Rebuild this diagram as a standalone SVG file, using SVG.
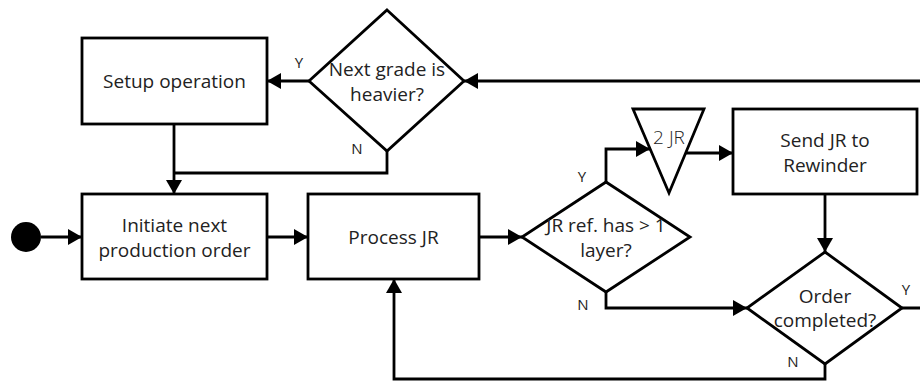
<svg xmlns="http://www.w3.org/2000/svg" width="920" height="381" viewBox="0 0 920 381">
  <style>
    .shape { fill: #ffffff; stroke: #000000; stroke-width: 2.8; }
    .edge { fill: none; stroke: #000000; stroke-width: 2.8; }
    .lbl { font-family: "Open Sans", "Noto Sans", "Liberation Sans", sans-serif; font-size: 19px; fill: #222222; text-anchor: middle; }
    .thin { font-weight: 300; }
    .tag { font-family: "Open Sans", "Noto Sans", "Liberation Sans", sans-serif; font-size: 15px; fill: #222222; text-anchor: middle; }
  </style>
  <defs>
    <marker id="arrow" markerUnits="userSpaceOnUse" markerWidth="14" markerHeight="16" refX="14" refY="8" orient="auto">
      <path d="M0,0 L14,8 L0,16 z" fill="#000000"/>
    </marker>
  </defs>

  <rect width="920" height="381" fill="#ffffff"/>

  <!-- connectors -->
  <g id="connectors">
    <path class="edge" d="M41,237 L82,237" marker-end="url(#arrow)"/>
    <path class="edge" d="M267,237 L308,237" marker-end="url(#arrow)"/>
    <path class="edge" d="M479,237 L522,237" marker-end="url(#arrow)"/>
    <path class="edge" d="M606,182 L606,149 L650,149" marker-end="url(#arrow)"/>
    <path class="edge" d="M686,153 L733,153" marker-end="url(#arrow)"/>
    <path class="edge" d="M825,194 L825,252" marker-end="url(#arrow)"/>
    <path class="edge" d="M606,292 L606,308 L747,308" marker-end="url(#arrow)"/>
    <path class="edge" d="M902,308 L930,308 L930,81 L464,81" marker-end="url(#arrow)"/>
    <path class="edge" d="M825,364 L825,379 L394,379 L394,279" marker-end="url(#arrow)"/>
    <path class="edge" d="M309,81 L267,81" marker-end="url(#arrow)"/>
    <path class="edge" d="M387,151 L387,173 L174,173"/>
    <path class="edge" d="M174,124 L174,194" marker-end="url(#arrow)"/>
    <text class="tag" x="299" y="68">Y</text>
    <text class="tag" x="357" y="154">N</text>
    <text class="tag" x="582" y="182">Y</text>
    <text class="tag" x="583" y="310">N</text>
    <text class="tag" x="906" y="295">Y</text>
    <text class="tag" x="793" y="367">N</text>
  </g>

  <g id="start">
    <circle cx="26" cy="237" r="15" fill="#000000"/>
  </g>

  <g id="setup-operation">
    <rect class="shape" x="82" y="38" width="185" height="86"/>
    <text class="lbl" x="174.5" y="88">Setup operation</text>
  </g>

  <g id="next-grade-heavier">
    <polygon class="shape" points="387,10 464,81 387,151 309,81"/>
    <text class="lbl" x="387" y="76">Next grade is</text>
    <text class="lbl" x="387" y="101">heavier?</text>
  </g>

  <g id="initiate-order">
    <rect class="shape" x="82" y="194" width="185" height="85"/>
    <text class="lbl" x="174.5" y="232">Initiate next</text>
    <text class="lbl" x="174.5" y="257">production order</text>
  </g>

  <g id="process-jr">
    <rect class="shape" x="308" y="194" width="171" height="85"/>
    <text class="lbl" x="393.5" y="244">Process JR</text>
  </g>

  <g id="multi-layer">
    <polygon class="shape" points="606,182 690,237 606,292 522,237"/>
    <text class="lbl" x="606" y="232">JR ref. has &gt; 1</text>
    <text class="lbl" x="606" y="257">layer?</text>
  </g>

  <g id="two-jr">
    <polygon class="shape" points="633,109 704,109 669,193"/>
    <text class="lbl thin" x="669" y="144">2 JR</text>
  </g>

  <g id="send-rewinder">
    <rect class="shape" x="733" y="109" width="184" height="85"/>
    <text class="lbl" x="825" y="147">Send JR to</text>
    <text class="lbl" x="825" y="172">Rewinder</text>
  </g>

  <g id="order-completed">
    <polygon class="shape" points="825,252 902,308 825,364 747,308"/>
    <text class="lbl" x="825" y="303">Order</text>
    <text class="lbl" x="825" y="327">completed?</text>
  </g>
</svg>
